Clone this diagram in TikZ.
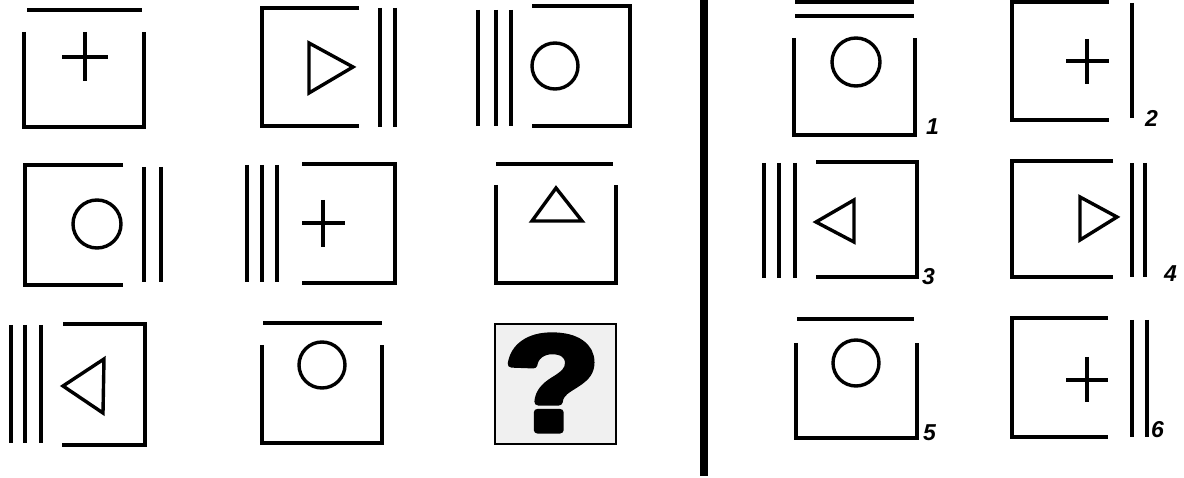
\documentclass[tikz,border=0pt]{standalone}
\usepackage{fontspec}
\setmainfont{Liberation Sans}
\begin{document}
\begin{tikzpicture}[x=1pt,y=-1pt,
  fig/.style={line width=3.4pt, line join=miter},
  lbl/.style={font=\fontsize{23}{23}\selectfont\bfseries\itshape, anchor=base west, inner sep=0pt},
  qbox/.style={line width=1.6pt, fill=black!6}]
\useasboundingbox (0,0) rectangle (1184,478);
% ---------- matrix, row 1
\draw[fig] (27,10) -- (142,10);
\draw[fig] (24,32) -- (24,127) -- (144,127) -- (144,32);
\draw[fig] (62,57) -- (108,57) (85,32) -- (85,81);
\draw[fig] (359,8) -- (262,8) -- (262,126) -- (359,126);
\draw[fig] (309,43) -- (353,67) -- (309,93) -- cycle;
\draw[fig] (380,8) -- (380,127) (395,8) -- (395,127);
\draw[fig] (478,10) -- (478,126) (496,10) -- (496,126) (511,10) -- (511,126);
\draw[fig] (532,6) -- (630,6) -- (630,126) -- (532,126);
\draw[fig] (555,66) circle[radius=23pt];
% ---------- row 2
\draw[fig] (123,165) -- (25,165) -- (25,285) -- (123,285);
\draw[fig] (144,167) -- (144,282) (161,167) -- (161,282);
\draw[fig] (97,224) circle[radius=24pt];
\draw[fig] (247,165) -- (247,282) (262,165) -- (262,282) (277,165) -- (277,282);
\draw[fig] (302,164) -- (395,164) -- (395,283) -- (302,283);
\draw[fig] (302,223) -- (345,223) (323,200) -- (323,247);
\draw[fig] (496,164) -- (613,164);
\draw[fig] (496,185) -- (496,283) -- (616,283) -- (616,185);
\draw[fig] (556,188) -- (582,221) -- (532,221) -- cycle;
% ---------- row 3
\draw[fig] (11,325) -- (11,443) (25,325) -- (25,443) (41,325) -- (41,443);
\draw[fig] (63,324) -- (145,324) -- (145,445) -- (62,445);
\draw[fig] (63,386) -- (104,359) -- (103,413) -- cycle;
\draw[fig] (263,323) -- (382,323);
\draw[fig] (262,345) -- (262,443) -- (382,443) -- (382,345);
\draw[fig] (322,365) circle[radius=23pt];
\draw[qbox] (495,324) rectangle (616,444);
\node[font=\fontsize{135}{135}\selectfont\bfseries, inner sep=0pt, xscale=1.15] (q) at (552,383)
  {\special{pdf:literal 2 Tr 7 w 1 j}?\special{pdf:literal 0 Tr}};
% ---------- divider
\fill (700,0) rectangle (708,476);
% ---------- answers
\draw[fig] (795,2) -- (914,2) (795,16) -- (914,16);
\draw[fig] (794,38) -- (794,135) -- (915,135) -- (915,38);
\draw[fig] (856,62) circle[radius=24pt];
\node[lbl] (l1) at (926,135) {1};
\draw[fig] (1109,2) -- (1012,2) -- (1012,120) -- (1109,120);
\draw[fig] (1132,3) -- (1132,118);
\draw[fig] (1066,61) -- (1109,61) (1087,39) -- (1087,84);
\node[lbl] (l2) at (1145,127) {2};
\draw[fig] (764,163) -- (764,278) (779,163) -- (779,278) (795,163) -- (795,278);
\draw[fig] (816,162) -- (917,162) -- (917,277) -- (816,277);
\draw[fig] (816,222) -- (854,200) -- (854,242) -- cycle;
\node[lbl] (l3) at (922,285) {3};
\draw[fig] (1113,161) -- (1012,161) -- (1012,277) -- (1113,277);
\draw[fig] (1132,163) -- (1132,277) (1145,163) -- (1145,277);
\draw[fig] (1080,197) -- (1117,217) -- (1080,240) -- cycle;
\node[lbl] (l4) at (1164,282) {4};
\draw[fig] (797,319) -- (914,319);
\draw[fig] (796,343) -- (796,438) -- (917,438) -- (917,343);
\draw[fig] (856,363) circle[radius=23pt];
\node[lbl] (l5) at (923,440) {5};
\draw[fig] (1108,318) -- (1012,318) -- (1012,437) -- (1108,437);
\draw[fig] (1132,320) -- (1132,437) (1147,320) -- (1147,437);
\draw[fig] (1066,380) -- (1108,380) (1087,357) -- (1087,402);
\node[lbl] (l6) at (1151,437) {6};
\end{tikzpicture}
\end{document}
